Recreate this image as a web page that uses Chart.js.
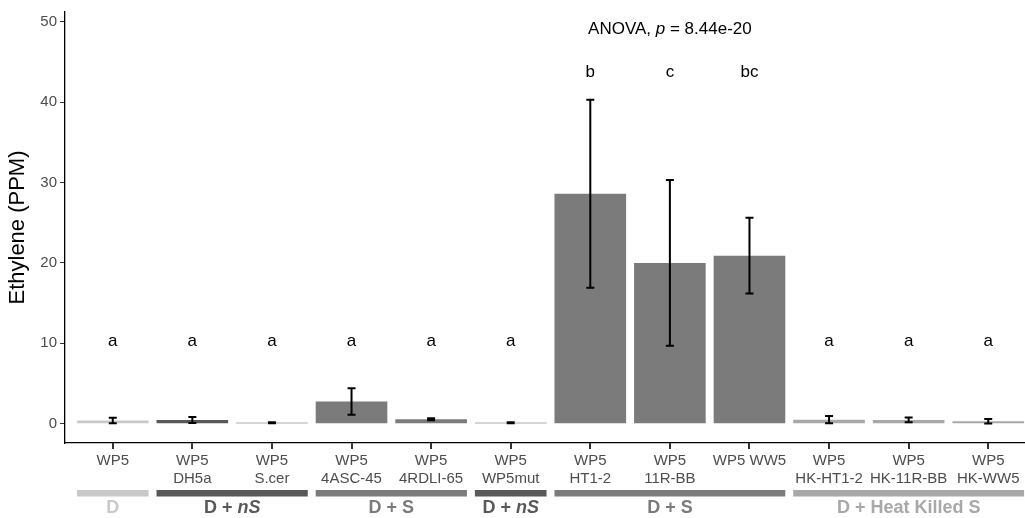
<!DOCTYPE html>
<html>
<head>
<meta charset="utf-8">
<script src="https://cdn.jsdelivr.net/npm/chart.js@4.4.0/dist/chart.umd.min.js"></script>
<style>
html, body { margin: 0; padding: 0; background: #fff; overflow: hidden; }
#wrap { width: 1036px; height: 518px; }
</style>
</head>
<body>
<div id="wrap"><canvas id="chart"></canvas></div>
<script>
var labels = [["WP5"], ["WP5", "DH5a"], ["WP5", "S.cer"], ["WP5", "4ASC-45"], ["WP5", "4RDLI-65"], ["WP5", "WP5mut"],
              ["WP5", "HT1-2"], ["WP5", "11R-BB"], ["WP5 WW5"], ["WP5", "HK-HT1-2"], ["WP5", "HK-11R-BB"], ["WP5", "HK-WW5"]];
var means = [0.4, 0.45, 0.12, 2.75, 0.55, 0.12, 28.6, 20.0, 20.9, 0.5, 0.47, 0.3];
var se = [0.35, 0.37, 0.07, 1.65, 0.12, 0.07, 11.7, 10.3, 4.7, 0.45, 0.3, 0.27];
var letters = ["a", "a", "a", "a", "a", "a", "b", "c", "bc", "a", "a", "a"];
var letterY = [10.3, 10.3, 10.3, 10.3, 10.3, 10.3, 43.7, 43.7, 43.7, 10.3, 10.3, 10.3];
var anovaText = ["ANOVA, ", "p", " = 8.44e-20"];
var anovaAt = 7, anovaY = 49;

var groupNames = ["D", "D + ", "D + S", "D + ", "D + S", "D + Heat Killed S"];
var groupItalic = ["", "nS", "", "nS", "", ""];
var groupStart = [0, 1, 3, 5, 6, 9];
var groupEnd = [0, 2, 4, 5, 8, 11];
var groupColors = ["#c9c9c9", "#595959", "#7b7b7b", "#595959", "#7b7b7b", "#a8a8a8"];
var yTicks = [0, 10, 20, 30, 40, 50];

// colour of each bar = colour of its group
var barColors = [];
for (let g = 0; g < groupStart.length; g++) {
    for (let i = groupStart[g]; i <= groupEnd[g]; i++) barColors[i] = groupColors[g];
}
var points = means.map((v, i) => ({ x: i, y: v }));

var FONT = "'Liberation Sans', Arial, Helvetica, sans-serif";

var extras = {
    id: 'extras',
    afterDatasetsDraw: function(chart) {
        const ctx = chart.ctx;
        const x = chart.scales.x, y = chart.scales.y;
        const area = chart.chartArea;
        const meta = chart.getDatasetMeta(0);
        ctx.save();
        // error bars
        ctx.strokeStyle = '#000';
        ctx.lineWidth = 2;
        for (let i = 0; i < means.length; i++) {
            const px = x.getPixelForValue(i);
            const top = y.getPixelForValue(means[i] + se[i]);
            const bot = y.getPixelForValue(means[i] - se[i]);
            ctx.beginPath();
            ctx.moveTo(px, top); ctx.lineTo(px, bot);
            ctx.moveTo(px - 4, top); ctx.lineTo(px + 4, top);
            ctx.moveTo(px - 4, bot); ctx.lineTo(px + 4, bot);
            ctx.stroke();
        }
        // letters
        ctx.fillStyle = '#000';
        ctx.font = '17px ' + FONT;
        ctx.textAlign = 'center';
        ctx.textBaseline = 'middle';
        for (let i = 0; i < letters.length; i++) {
            ctx.fillText(letters[i], x.getPixelForValue(i), y.getPixelForValue(letterY[i]));
        }
        // anova label
        const fonts = ['17px ' + FONT, 'italic 17px ' + FONT, '17px ' + FONT];
        let w = 0;
        for (let k = 0; k < 3; k++) { ctx.font = fonts[k]; w += ctx.measureText(anovaText[k]).width; }
        let ax = x.getPixelForValue(anovaAt) - w / 2;
        const ay = y.getPixelForValue(anovaY);
        ctx.textAlign = 'left';
        for (let k = 0; k < 3; k++) {
            ctx.font = fonts[k];
            ctx.fillText(anovaText[k], ax, ay);
            ax += ctx.measureText(anovaText[k]).width;
        }
        // group bars and names
        for (let g = 0; g < groupNames.length; g++) {
            const b0 = meta.data[groupStart[g]], b1 = meta.data[groupEnd[g]];
            const left = b0.x - b0.width / 2, right = b1.x + b1.width / 2;
            ctx.fillStyle = groupColors[g];
            ctx.fillRect(left, area.bottom + 47, right - left, 6.5);
            const f1 = 'bold 18px ' + FONT, f2 = 'italic bold 18px ' + FONT;
            ctx.font = f1;
            const w1 = ctx.measureText(groupNames[g]).width;
            ctx.font = f2;
            const w2 = ctx.measureText(groupItalic[g]).width;
            let tx = (left + right) / 2 - (w1 + w2) / 2;
            const ty = area.bottom + 65;
            ctx.font = f1;
            ctx.fillText(groupNames[g], tx, ty);
            ctx.font = f2;
            ctx.fillText(groupItalic[g], tx + w1, ty);
        }
        ctx.restore();
    },
    afterDraw: function(chart) {
        // x tick marks under each bar
        const ctx = chart.ctx;
        const x = chart.scales.x;
        const bottom = chart.chartArea.bottom;
        ctx.save();
        ctx.fillStyle = '#333';
        for (let i = 0; i < labels.length; i++) {
            const px = Math.round(x.getPixelForValue(i));
            ctx.fillRect(px - 1, bottom, 2, 6);
        }
        ctx.restore();
    }
};

new Chart(document.getElementById('chart'), {
    type: 'bar',
    data: {
        datasets: [{
            data: points,
            backgroundColor: barColors,
            borderWidth: 0,
            categoryPercentage: 1,
            barPercentage: 0.9,
        }],
    },
    options: {
        responsive: true,
        maintainAspectRatio: false,
        animation: false,
        devicePixelRatio: 1,
        layout: { padding: { top: 11, right: 0, left: 0, bottom: 0 } },
        plugins: {
            legend: { display: false },
            tooltip: { enabled: false },
        },
        scales: {
            x: {
                type: 'linear',
                min: -0.6,
                max: 11.6,
                offset: false,
                afterBuildTicks: function(scale) { scale.ticks = labels.map((l, i) => ({ value: i })); },
                grid: { display: false, drawOnChartArea: false, drawTicks: false, tickLength: 5, offset: false },
                border: { display: true, color: '#000', width: 1.3 },
                ticks: {
                    color: '#4d4d4d', font: { family: FONT, size: 15 }, padding: 9, maxRotation: 0, autoSkip: false,
                    callback: function(v) { return labels[v]; },
                },
                afterFit: function(scale) { scale.height = 75; },
            },
            y: {
                min: -2.4,
                max: 51.2,
                afterBuildTicks: function(scale) { scale.ticks = yTicks.map(v => ({ value: v })); },
                grid: { display: true, drawOnChartArea: false, drawTicks: true, tickLength: 5, color: '#333' },
                border: { display: true, color: '#000', width: 1.3 },
                ticks: { color: '#4d4d4d', font: { family: FONT, size: 15 }, padding: 3 },
                title: { display: true, text: 'Ethylene (PPM)', color: '#000', font: { family: FONT, size: 22 }, padding: { top: 5, bottom: 0 } },
                afterFit: function(scale) { scale.width = 65; },
            },
        },
    },
    plugins: [extras],
});
</script>
</body>
</html>
